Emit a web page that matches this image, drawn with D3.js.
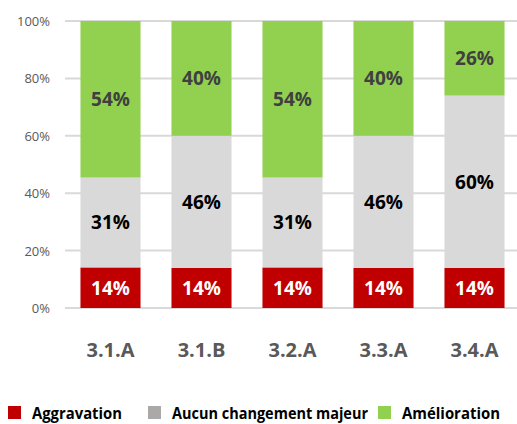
<!DOCTYPE html>
<html>
<head>
<meta charset="utf-8">
<script src="https://cdn.jsdelivr.net/npm/d3@7"></script>
<style>
  body { margin: 0; background: #fff; }
  svg { display: block; font-family: "Open Sans", "Noto Sans", sans-serif; }
</style>
</head>
<body>
<svg id="chart" width="517" height="424"></svg>
<script>
// chart data
var categories = ["3.1.A", "3.1.B", "3.2.A", "3.3.A", "3.4.A"];
var seriesNames = ["Aggravation", "Aucun changement majeur", "Amélioration"];
var aggravation = [14, 14, 14, 14, 14];
var aucun = [31, 46, 31, 46, 60];
var amelioration = [54, 40, 54, 40, 26];
var yTicks = [0, 0.2, 0.4, 0.6, 0.8, 1];

var barColors = ["#c00000", "#d9d9d9", "#92d050"];
var legendColors = ["#c00000", "#aba8a8", "#92d050"];
var labelColors = ["#ffffff", "#000000", "#404040"];

var svg = d3.select("#chart");

var rows = categories.map(function(c, i) {
  return { cat: c, "Aggravation": aggravation[i], "Aucun changement majeur": aucun[i], "Amélioration": amelioration[i] };
});

var stack = d3.stack().keys(seriesNames).offset(d3.stackOffsetExpand);
var layers = stack(rows);

var x = d3.scaleBand().domain(categories).range([65, 520]).paddingInner(0.34).paddingOuter(0.17);
var y = d3.scaleLinear().domain([0, 1]).range([308, 21]);

// gridlines
svg.append("g")
  .selectAll("line")
  .data(yTicks)
  .join("line")
  .attr("x1", 65).attr("x2", 517)
  .attr("y1", function(d) { return y(d); })
  .attr("y2", function(d) { return y(d); })
  .style("stroke", "#d9d9d9")
  .style("stroke-width", "2px");

// y axis labels
svg.append("g")
  .selectAll("text")
  .data(yTicks)
  .join("text")
  .attr("x", 50)
  .attr("y", function(d) { return y(d) + 5; })
  .attr("text-anchor", "end")
  .style("font-size", "13px")
  .style("fill", "#595959")
  .text(d3.format(".0%"));

// bars
var groups = svg.append("g")
  .selectAll("g")
  .data(layers)
  .join("g")
  .style("fill", function(d, i) { return barColors[i]; });

groups.selectAll("rect")
  .data(function(d) { return d; })
  .join("rect")
  .attr("x", function(d) { return x(d.data.cat); })
  .attr("width", x.bandwidth())
  .attr("y", function(d) { return y(d[1]); })
  .attr("height", function(d) { return y(d[0]) - y(d[1]); });

// value labels
layers.forEach(function(layer, li) {
  svg.append("g")
    .selectAll("text")
    .data(layer)
    .join("text")
    .attr("x", function(d) { return x(d.data.cat) + x.bandwidth() / 2; })
    .attr("y", function(d) { return (y(d[0]) + y(d[1])) / 2 + 7; })
    .attr("text-anchor", "middle")
    .style("font-size", "19px")
    .style("font-weight", "bold")
    .style("fill", labelColors[li])
    .text(function(d) { return d.data[layer.key] + "%"; });
});

// category labels
svg.append("g")
  .selectAll("text")
  .data(categories)
  .join("text")
  .attr("x", function(d) { return x(d) + x.bandwidth() / 2; })
  .attr("y", 357)
  .attr("text-anchor", "middle")
  .style("font-size", "20px")
  .style("font-weight", "bold")
  .style("fill", "#595959")
  .text(function(d) { return d; });

// legend
var legendX = [8, 148, 378];
var legendW = [90, 196, 98];
var legend = svg.append("g")
  .selectAll("g")
  .data(seriesNames)
  .join("g")
  .attr("transform", function(d, i) { return "translate(" + legendX[i] + ",406)"; });

legend.append("rect")
  .attr("width", 13).attr("height", 13)
  .style("fill", function(d, i) { return legendColors[i]; });

legend.append("text")
  .attr("x", 24)
  .attr("y", 13)
  .attr("textLength", function(d, i) { return legendW[i]; })
  .attr("lengthAdjust", "spacingAndGlyphs")
  .style("font-size", "16px")
  .style("font-weight", "bold")
  .style("fill", "#000")
  .text(function(d) { return d; });
</script>
</body>
</html>
